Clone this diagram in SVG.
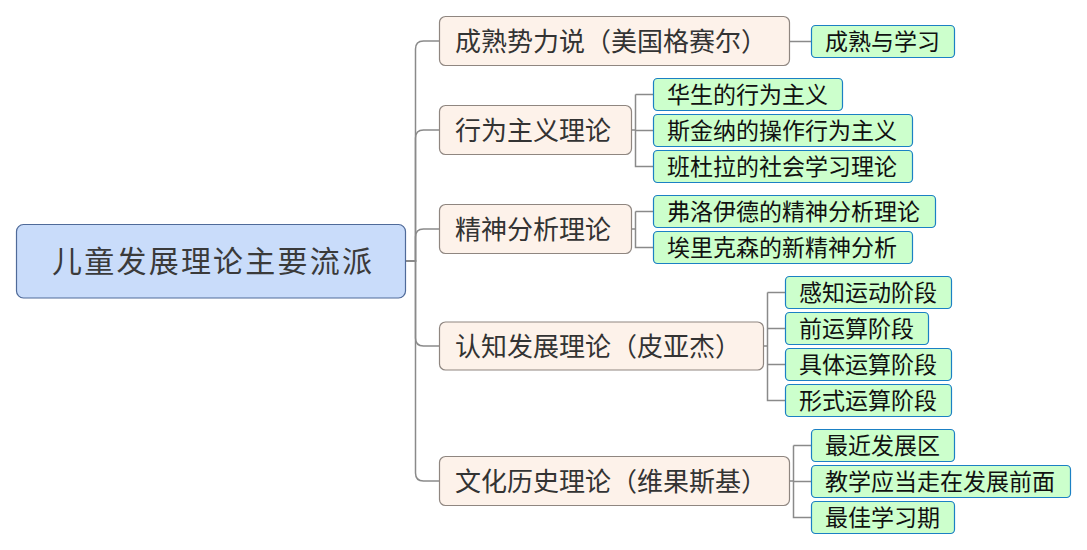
<svg xmlns="http://www.w3.org/2000/svg" width="1087" height="550" viewBox="0 0 1087 550">
<style>
text{font-family:"Noto Sans CJK SC","Noto Sans CJK TC",sans-serif}
.root rect{fill:#c9dcfa;stroke:#4f6a99;stroke-width:1.2}
.root text{font-size:30px;fill:#3a3a3a}
.l1 rect{fill:#fdf2ea;stroke:#8f8680;stroke-width:1.2}
.l1 text{font-size:26px;fill:#333}
.l2 rect{fill:#ccffcc;stroke:#1b80c4;stroke-width:1.2}
.l2 text{font-size:23px;fill:#111}
#connectors path{fill:none;stroke:#8a8a8a;stroke-width:1.5}
</style>
<rect width="1087" height="550" fill="#fff"/>
<g id="connectors">
<path d="M405.5 261 H415.5 V49 Q415.5 41 423.5 41 H439.5"/>
<path d="M405.5 261 H415.5 V138 Q415.5 130 423.5 130 H439.5"/>
<path d="M405.5 261 H415.5 V237 Q415.5 229 423.5 229 H439.5"/>
<path d="M405.5 261 H415.5 V338 Q415.5 346 423.5 346 H439.5"/>
<path d="M405.5 261 H415.5 V473 Q415.5 481 423.5 481 H439.5"/>
<path d="M789.5 41.5 H811.5"/>
<path d="M631.5 130 H635.5 M635.5 94.5 V166.5 H653.5 M635.5 94.5 H653.5 M635.5 130.5 H653.5"/>
<path d="M631.5 229 H635.5 M635.5 211.5 V247.5 H653.5 M635.5 211.5 H653.5"/>
<path d="M763.5 346 H767.5 M767.5 292.5 V400.5 H785.5 M767.5 292.5 H785.5 M767.5 328.5 H785.5 M767.5 364.5 H785.5"/>
<path d="M789.5 481 H793.5 M793.5 445.5 V517.5 H811.5 M793.5 445.5 H811.5 M793.5 481.5 H811.5"/>
</g>
<g id="root" class="root"><rect x="16.5" y="224.5" width="389" height="73.5" rx="7"/><text x="52" y="272" textLength="320" lengthAdjust="spacing">儿童发展理论主要流派</text></g>
<g id="n1" class="l1"><rect x="439.5" y="16.5" width="350" height="49" rx="6"/><text x="455" y="50.5">成熟势力说（美国格赛尔）</text></g>
<g id="n2" class="l1"><rect x="439.5" y="105.5" width="192" height="49" rx="6"/><text x="455" y="139.5">行为主义理论</text></g>
<g id="n3" class="l1"><rect x="439.5" y="204.5" width="192" height="49" rx="6"/><text x="455" y="238.5">精神分析理论</text></g>
<g id="n4" class="l1"><rect x="439.5" y="322" width="324" height="48" rx="6"/><text x="455" y="355.5">认知发展理论（皮亚杰）</text></g>
<g id="n5" class="l1"><rect x="439.5" y="456.5" width="350" height="49" rx="6"/><text x="455" y="490.5">文化历史理论（维果斯基）</text></g>
<g id="n1a" class="l2"><rect x="811.5" y="25.5" width="143" height="32" rx="4"/><text x="825" y="49.9">成熟与学习</text></g>
<g id="n2a" class="l2"><rect x="653.5" y="78.5" width="189" height="32" rx="4"/><text x="667" y="102.9">华生的行为主义</text></g>
<g id="n2b" class="l2"><rect x="653.5" y="114.5" width="259" height="32" rx="4"/><text x="667" y="138.9">斯金纳的操作行为主义</text></g>
<g id="n2c" class="l2"><rect x="653.5" y="150.5" width="259" height="32" rx="4"/><text x="667" y="174.9">班杜拉的社会学习理论</text></g>
<g id="n3a" class="l2"><rect x="653.5" y="195.5" width="282" height="32" rx="4"/><text x="667" y="219.9">弗洛伊德的精神分析理论</text></g>
<g id="n3b" class="l2"><rect x="653.5" y="231.5" width="259" height="32" rx="4"/><text x="667" y="255.9">埃里克森的新精神分析</text></g>
<g id="n4a" class="l2"><rect x="785.5" y="276.5" width="166" height="32" rx="4"/><text x="799" y="300.9">感知运动阶段</text></g>
<g id="n4b" class="l2"><rect x="785.5" y="312.5" width="143" height="32" rx="4"/><text x="799" y="336.9">前运算阶段</text></g>
<g id="n4c" class="l2"><rect x="785.5" y="348.5" width="166" height="32" rx="4"/><text x="799" y="372.9">具体运算阶段</text></g>
<g id="n4d" class="l2"><rect x="785.5" y="384.5" width="166" height="32" rx="4"/><text x="799" y="408.9">形式运算阶段</text></g>
<g id="n5a" class="l2"><rect x="811.5" y="429.5" width="143" height="32" rx="4"/><text x="825" y="453.9">最近发展区</text></g>
<g id="n5b" class="l2"><rect x="811.5" y="465.5" width="259" height="32" rx="4"/><text x="825" y="489.9">教学应当走在发展前面</text></g>
<g id="n5c" class="l2"><rect x="811.5" y="501.5" width="143" height="32" rx="4"/><text x="825" y="525.9">最佳学习期</text></g>
</svg>
